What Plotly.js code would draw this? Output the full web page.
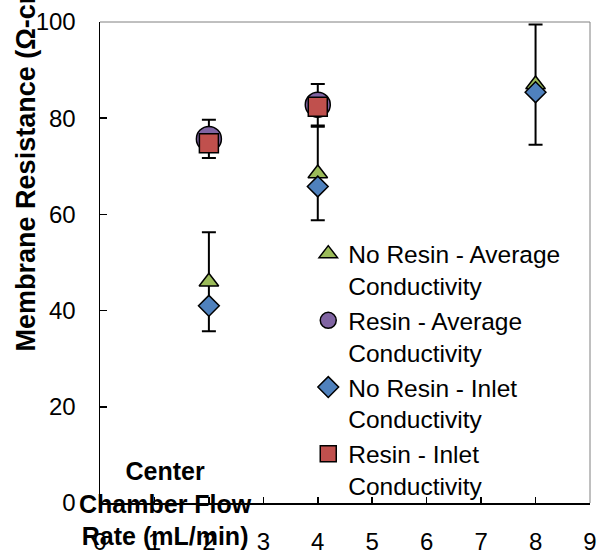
<!DOCTYPE html>
<html>
<head>
<meta charset="utf-8">
<script src="https://cdn.plot.ly/plotly-3.0.1.min.js"></script>
<style>html,body{margin:0;padding:0;background:#fff;}#chart{width:600px;height:558px;}</style>
</head>
<body>
<div id="chart"></div>
<script>
const flowNoResin = [2, 4, 8];
const flowResin = [2, 4];
const noResinAverage = [46, 68.5, 87];
const noResinAverageErr = [10.3, 9.7, 12.5];
const resinAverage = [75.7, 82.8];
const resinAverageErr = [4, 4.3];
const noResinInlet = [41, 65.8, 85.4];
const resinInlet = [74.8, 82.4];
const xTicks = [0, 1, 2, 3, 4, 5, 6, 7, 8, 9];
const yTicks = [0, 20, 40, 60, 80, 100];

const FONT = 'Arial, "Liberation Sans", sans-serif';
const mline = {color: '#000', width: 1.5};

const traces = [
  {x: flowNoResin, y: noResinAverage, name: 'No Resin - Average<br>Conductivity', mode: 'markers', type: 'scatter',
   marker: {symbol: 'triangle-up', size: 17, color: '#9BBB59', line: mline},
   error_y: {type: 'data', array: noResinAverageErr, visible: true, color: '#000', thickness: 2, width: 7}},
  {x: flowResin, y: resinAverage, name: 'Resin - Average<br>Conductivity', mode: 'markers', type: 'scatter',
   marker: {symbol: 'circle', size: 25, color: '#8064A2', line: mline},
   error_y: {type: 'data', array: resinAverageErr, visible: true, color: '#000', thickness: 2, width: 7}},
  {x: flowNoResin, y: noResinInlet, name: 'No Resin - Inlet<br>Conductivity', mode: 'markers', type: 'scatter',
   marker: {symbol: 'diamond', size: 16, color: '#4F81BD', line: mline}},
  {x: flowResin, y: resinInlet, name: 'Resin - Inlet<br>Conductivity', mode: 'markers', type: 'scatter',
   marker: {symbol: 'square', size: 19, color: '#C0504D', line: mline}}
];

const layout = {
  width: 600, height: 558,
  margin: {l: 100, r: 10, t: 22, b: 55},
  paper_bgcolor: '#fff', plot_bgcolor: '#fff',
  font: {family: FONT, size: 24, color: '#000'},
  showlegend: true,
  legend: {x: 0.425, y: 0.565, xanchor: 'left', yanchor: 'top', bgcolor: 'rgba(0,0,0,0)',
           font: {family: FONT, size: 24.5, color: '#000'}, valign: 'top', tracegroupgap: 0},
  xaxis: {range: [0, 9], tickvals: xTicks, ticktext: xTicks.map(String), ticks: 'inside', ticklen: 6,
          tickcolor: '#000', tickwidth: 1.5, showline: true, linecolor: '#000', linewidth: 1.5,
          showgrid: false, zeroline: false, ticklabelstandoff: 17, tickfont: {size: 24}},
  yaxis: {range: [0, 100], tickvals: yTicks, ticktext: yTicks.map(String), ticks: 'inside', ticklen: 7,
          tickcolor: '#000', tickwidth: 1.5, showline: true, linecolor: '#000', linewidth: 1.5,
          showgrid: false, zeroline: false, ticklabelstandoff: 18, tickfont: {size: 24}},
  shapes: [
    {type: 'line', xref: 'paper', yref: 'paper', x0: 0, x1: 1, y0: 1, y1: 1, line: {color: '#808080', width: 1}},
    {type: 'line', xref: 'paper', yref: 'paper', x0: 1, x1: 1, y0: 0, y1: 1, line: {color: '#808080', width: 1}}
  ],
  annotations: [
    {text: '<b>Center<br>Chamber Flow<br>Rate (mL/min)</b>', xref: 'paper', yref: 'paper', x: 0.133, y: 0,
     xanchor: 'center', yanchor: 'middle', showarrow: false, font: {family: FONT, size: 25, color: '#000'}},
    {text: '<b>Membrane Resistance (Ω-cm<sup>2</sup>)</b>', xref: 'paper', yref: 'paper', x: -0.155, y: 0.31,
     xanchor: 'center', yanchor: 'bottom', textangle: -90, showarrow: false, font: {family: FONT, size: 27, color: '#000'}}
  ]
};

Plotly.newPlot('chart', traces, layout, {displayModeBar: false, staticPlot: true});
</script>
</body>
</html>
